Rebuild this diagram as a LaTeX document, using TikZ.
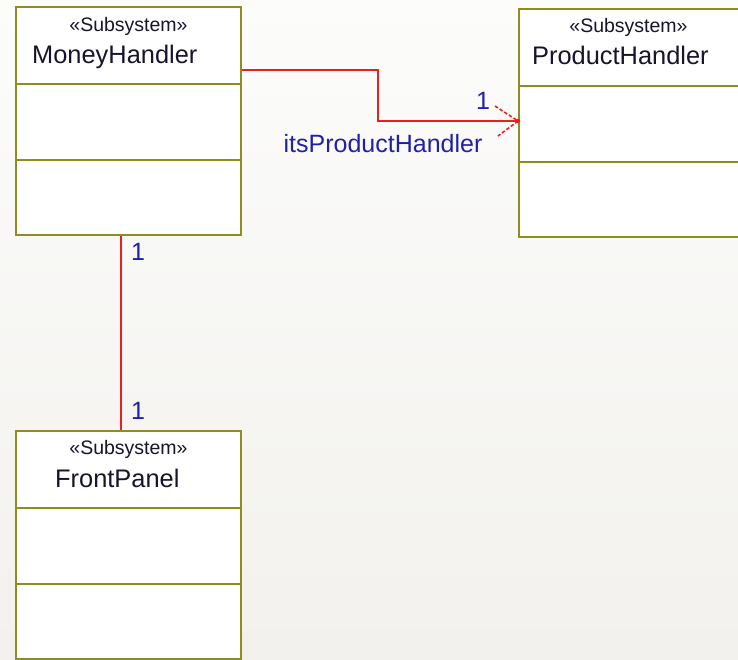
\documentclass[tikz,border=0pt]{standalone}
\usepackage{fontspec}
\setmainfont{Liberation Sans}
\usetikzlibrary{positioning}

\definecolor{boxline}{RGB}{142,142,32}
\definecolor{assoc}{RGB}{232,32,32}
\definecolor{lblblue}{RGB}{32,32,168}
\definecolor{namecol}{RGB}{24,20,44}
\definecolor{bgtop}{RGB}{252,252,251}
\definecolor{bgbot}{RGB}{242,241,237}

\tikzset{
  subsys/.style={draw=boxline, line width=2, fill=white, inner sep=0,
    minimum width=225, minimum height=228, anchor=north west},
  sep/.style={draw=boxline, line width=2},
  stereo/.style={inner sep=0, text=namecol, font=\fontsize{19.5}{21}\selectfont},
  clsname/.style={inner sep=0, anchor=west, text=namecol, font=\fontsize{25.4}{28}\selectfont},
  mult/.style={inner sep=0, text=lblblue, font=\fontsize{25}{28}\selectfont},
  assocline/.style={draw=assoc, line width=1.6},
}

\begin{document}
\begin{tikzpicture}[x=1pt,y=1pt]
\shade[top color=bgtop, bottom color=bgbot] (0,0) rectangle (738,659);
\useasboundingbox (0,0) rectangle (738,659);
\clip (0,0) rectangle (738,659);

% the three subsystems
\node[subsys] (money) at (15,653) {};
\node[subsys] (product) at (518,651) {};
\node[subsys] (front) at (15,229) {};

% compartments
\foreach \b in {money,product,front}{
  \draw[sep] ([yshift=-78]\b.north west) -- ([yshift=-78]\b.north east);
  \draw[sep] ([yshift=-154]\b.north west) -- ([yshift=-154]\b.north east);
}

\node[stereo] (moneyst) at ([yshift=-20]money.north) {«Subsystem»};
\node[clsname] (moneyname) at (32,602) {MoneyHandler};
\node[stereo] (productst) at ([xshift=-3,yshift=-19]product.north) {«Subsystem»};
\node[clsname] (productname) at (532,604) {ProductHandler};
\node[stereo] (frontst) at ([yshift=-19]front.north) {«Subsystem»};
\node[clsname] (frontname) at (55,181) {FrontPanel};

% association MoneyHandler -> ProductHandler
\coordinate (bend) at (378,589);
\coordinate (tip) at ([yshift=2]product.west);
\draw[assocline] (money.east |- bend) -- (bend) |- (tip);
\draw[assoc, line width=1.6, dash pattern=on 3.5pt off 2pt]
  ([xshift=-23,yshift=15]tip) -- (tip) -- ([xshift=-20,yshift=-15]tip);
\fill[assoc] (tip) circle (2.2);
\node[mult] (multph) at (483,558) {1};
\node[mult] (roleph) at (383,515) {itsProductHandler};

% association MoneyHandler -- FrontPanel
\draw[assocline] ([xshift=-7.5]money.south) -- ([xshift=-7.5]front.north);
\node[mult] (multmh) at (138,407) {1};
\node[mult] (multfp) at (138,248) {1};
\end{tikzpicture}
\end{document}
